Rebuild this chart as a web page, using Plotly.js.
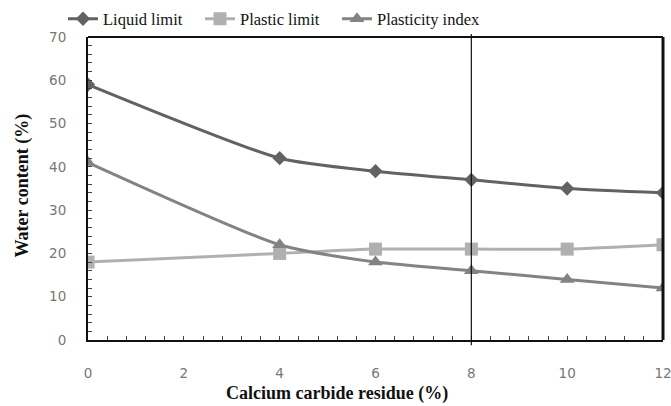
<!DOCTYPE html>
<html>
<head>
<meta charset="utf-8">
<script src="https://cdn.plot.ly/plotly-3.0.1.min.js"></script>
<style>html,body{margin:0;padding:0;background:#fff;}#chart{width:671px;height:406px;}</style>
</head>
<body>
<div id="chart"></div>
<script>
const ccr = [0, 4, 6, 8, 10, 12];
const liquidLimit = [59, 42, 39, 37, 35, 34];
const plasticLimit = [18, 20, 21, 21, 21, 22];
const plasticityIndex = [41, 22, 18, 16, 14, 12];
const xTicks = [0, 2, 4, 6, 8, 10, 12];
const yTicks = [0, 10, 20, 30, 40, 50, 60, 70];

const traces = [
  {x: ccr, y: liquidLimit, name: 'Liquid limit', mode: 'lines+markers', legend: 'legend',
   line: {color: '#626262', width: 3, shape: 'spline', smoothing: 0.6},
   marker: {symbol: 'diamond', size: 11, color: '#626262'}},
  {x: ccr, y: plasticLimit, name: 'Plastic limit', mode: 'lines+markers', legend: 'legend2',
   line: {color: '#b0b0b0', width: 3, shape: 'spline', smoothing: 0.6},
   marker: {symbol: 'square', size: 13, color: '#b0b0b0'}},
  {x: ccr, y: plasticityIndex, name: 'Plasticity index', mode: 'lines+markers', legend: 'legend3',
   line: {color: '#838383', width: 3, shape: 'spline', smoothing: 0.6},
   marker: {symbol: 'triangle-up', size: 13, color: '#838383'}}
];

const titleFont = {family: 'Liberation Serif, serif', size: 18, color: '#111', weight: 'bold'};
const legFont = {family: 'Liberation Serif, serif', size: 16.5, color: '#111'};
function leg(px) {
  return {orientation: 'h', xref: 'container', yref: 'container',
          x: px / 671, xanchor: 'left', y: 1 - 19 / 406, yanchor: 'middle',
          font: legFont, itemwidth: 30, bgcolor: 'rgba(0,0,0,0)'};
}

const layout = {
  width: 671, height: 406,
  margin: {l: 88, r: 8, t: 37, b: 66},
  paper_bgcolor: '#fff', plot_bgcolor: '#fff',
  showlegend: true,
  legend: leg(63), legend2: leg(200), legend3: leg(337),
  xaxis: {
    range: [0, 12], tickvals: xTicks, ticktext: xTicks.map(String),
    showgrid: false, zeroline: false, showline: true, linecolor: '#111', linewidth: 2,
    ticks: 'inside', ticklen: 4, tickcolor: '#444', mirror: false,
    minor: {dtick: 0.4, ticks: 'inside', ticklen: 4, tickcolor: '#444'},
    tickfont: {family: 'DejaVu Sans, sans-serif', size: 13.5, color: '#777'},
    ticklabelstandoff: 20, ticklabeloverflow: 'allow'
  },
  yaxis: {
    range: [0, 70], tickvals: yTicks, ticktext: yTicks.map(String),
    showgrid: false, zeroline: false, showline: true, linecolor: '#111', linewidth: 2,
    ticks: 'inside', ticklen: 4, tickcolor: '#444',
    minor: {dtick: 2, ticks: 'inside', ticklen: 4, tickcolor: '#444'},
    tickfont: {family: 'DejaVu Sans, sans-serif', size: 13.5, color: '#777'},
    ticklabelstandoff: 17
  },
  annotations: [
    {text: 'Calcium carbide residue (%)', xref: 'paper', yref: 'paper',
     x: (337 - 88) / 575, y: -0.175, xanchor: 'center', yanchor: 'middle',
     showarrow: false, font: titleFont},
    {text: 'Water content (%)', xref: 'paper', yref: 'paper',
     x: (22 - 88) / 575, y: 0.51, xanchor: 'center', yanchor: 'middle', textangle: -90,
     showarrow: false, font: titleFont}
  ],
  shapes: [
    {type: 'line', xref: 'paper', yref: 'paper', x0: 0, x1: 1, y0: 1, y1: 1,
     line: {color: '#111', width: 2}},
    {type: 'line', xref: 'paper', yref: 'paper', x0: 1, x1: 1, y0: 0, y1: 1,
     line: {color: '#111', width: 3}},
    {type: 'line', xref: 'x', yref: 'paper', x0: 8, x1: 8, y0: -0.017, y1: 1.01,
     line: {color: '#111', width: 1.2}}
  ]
};

Plotly.newPlot('chart', traces, layout, {displayModeBar: false, staticPlot: true});
</script>
</body>
</html>
